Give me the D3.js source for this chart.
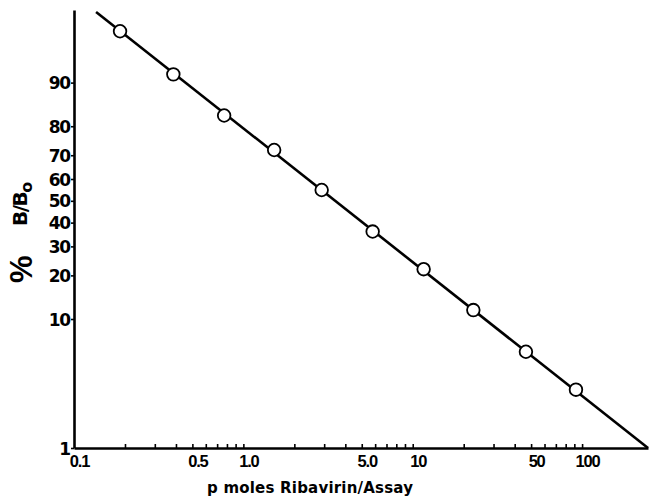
<!DOCTYPE html>
<html>
<head>
<meta charset="utf-8">
<script src="https://cdn.jsdelivr.net/npm/d3@7"></script>
<style>
  body { margin: 0; background: #fff; }
  svg { display: block; }
  .chart text { font-family: "Liberation Sans", Arial, sans-serif; font-weight: bold; fill: #000; }
  .chart text.wide { font-family: "DejaVu Sans", sans-serif; }
</style>
</head>
<body>
<div class="chart"></div>
<script>
const dose = [0.187, 0.386, 0.77, 1.52, 2.9, 5.8, 11.6, 22.8, 46.6, 92];
const pctBound = [95.9, 91.3, 83, 72, 55, 36.1, 21.9, 11.6, 5.7, 2.9];
const fitDose = [0.135, 245];
const fitPct = [97.1, 1];

const xTickVals = [0.1, 0.5, 1, 5, 10, 50, 100];
const xTickLabels = ['0.1', '0.5', '1.0', '5.0', '10', '50', '100'];
const yTickVals = [1, 10, 20, 30, 40, 50, 60, 70, 80, 90];
const yTickLabels = ['1', '10', '20', '30', '40', '50', '60', '70', '80', '90'];

const width = 649;
const height = 502;
const x0 = 74, x1 = 648, yBottom = 448, yTop = 10;

const logit = p => Math.log(p / (100 - p));

const svg = d3.select('.chart')
  .append('svg')
    .attr('width', width)
    .attr('height', height);

const xScale = d3.scaleLog()
  .domain([0.1, 245])
  .range([x0, x1]);

// logit axis: linear on ln(p/(1-p))
const yScale = d3.scaleLinear()
  .domain([logit(1), logit(97.2)])
  .range([yBottom, yTop]);

// minor ticks on the log axis, pointing inward
let minor = [];
[0.1, 1, 10].forEach(dec => {
  for (let k = 2; k <= 10; k++) minor.push(dec * k);
});

svg.append('g')
    .attr('transform', `translate(0, ${yBottom})`)
  .call(d3.axisBottom(xScale).tickValues(minor).tickSizeInner(-4).tickSizeOuter(0).tickFormat(''))
  .call(g => g.select('.domain').attr('stroke-width', 2.6))
  .call(g => g.selectAll('.tick line').attr('stroke-width', 1.6));

svg.append('g')
    .attr('transform', `translate(0, ${yBottom})`)
  .call(d3.axisBottom(xScale).tickValues(xTickVals).tickSize(0).tickPadding(0)
    .tickFormat((d, i) => xTickLabels[i]))
  .call(g => g.select('.domain').remove())
  .call(g => g.selectAll('.tick text')
    .attr('dy', null)
    .attr('y', 19)
    .attr('dx', 5)
    .style('font-size', '16.5px')
    .style('letter-spacing', '-1.2px'));

svg.append('g')
    .attr('transform', `translate(${x0}, 0)`)
  .call(d3.axisLeft(yScale).tickValues(yTickVals.map(logit)).tickSizeInner(3).tickSizeOuter(0)
    .tickPadding(1).tickFormat((d, i) => yTickLabels[i]))
  .call(g => g.select('.domain').attr('stroke-width', 2.6))
  .call(g => g.selectAll('.tick line').attr('stroke-width', 1.6))
  .call(g => g.selectAll('.tick text')
    .attr('class', 'wide')
    .attr('dy', '0.36em')
    .style('font-size', '17px')
    .style('letter-spacing', '-1.2px'));

// fitted line
const line = d3.line()
  .x(d => xScale(d[0]))
  .y(d => yScale(logit(d[1])));

svg.append('path')
  .datum(d3.zip(fitDose, fitPct))
  .attr('d', line)
  .attr('fill', 'none')
  .attr('stroke', '#000')
  .attr('stroke-width', 2.6);

svg.selectAll('.pt')
  .data(d3.zip(dose, pctBound))
  .enter()
  .append('circle')
    .attr('class', 'pt')
    .attr('cx', d => xScale(d[0]))
    .attr('cy', d => yScale(logit(d[1])))
    .attr('r', 6.3)
    .attr('fill', '#fff')
    .attr('stroke', '#000')
    .attr('stroke-width', 1.8);

// axis titles
svg.append('text')
  .attr('class', 'wide')
  .attr('x', 207)
  .attr('y', 493)
  .attr('textLength', 206)
  .style('font-size', '15px')
  .text('p moles Ribavirin/Assay');

svg.append('text')
  .attr('transform', 'translate(32, 283) rotate(-90)')
  .style('font-size', '31px')
  .text('%');

const yt = svg.append('text')
  .attr('class', 'wide')
  .attr('transform', 'translate(27, 226) rotate(-90)')
  .style('font-size', '20px')
  .style('letter-spacing', '-1.5px');
yt.append('tspan').text('B/B');
yt.append('tspan').attr('dy', 5).style('font-size', '16px').text('o');
</script>
</body>
</html>
